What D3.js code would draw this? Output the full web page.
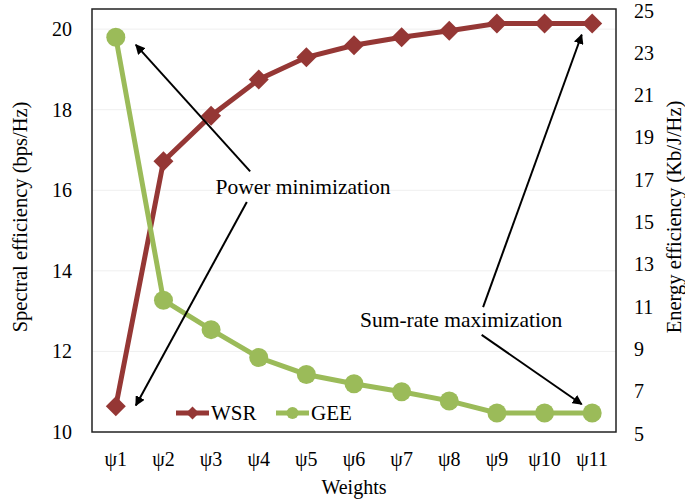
<!DOCTYPE html>
<html>
<head>
<meta charset="utf-8">
<script src="https://cdn.jsdelivr.net/npm/d3@7"></script>
<style>
  body { margin: 0; background: #fff; }
  svg text { font-family: "Liberation Serif", "Times New Roman", Tinos, "DejaVu Serif", serif !important; fill: #000; }
</style>
</head>
<body>
<svg id="chart" width="685" height="504"></svg>
<script>
const weights = ["ψ1","ψ2","ψ3","ψ4","ψ5","ψ6","ψ7","ψ8","ψ9","ψ10","ψ11"]
const wsr = [10.64, 16.72, 17.85, 18.75, 19.3, 19.6, 19.8, 19.96, 20.14, 20.14, 20.14]
const gee = [23.66, 11.23, 9.84, 8.52, 7.72, 7.28, 6.9, 6.47, 5.9, 5.9, 5.9]
const leftTicks = [10, 12, 14, 16, 18, 20]
const rightTicks = [5, 7, 9, 11, 13, 15, 17, 19, 21, 23, 25]

// annotations: text pos (index, left value), arrows [[from idx, from val],[to idx, to val]]
const notes = [
  {text: "Power minimization", at: [3.93, 15.9],
   arrows: [[[2.82, 16.47], [0.42, 19.61]], [[2.75, 15.71], [0.42, 10.66]]]},
  {text: "Sum-rate maximization", at: [7.25, 12.6],
   arrows: [[[7.71, 13.1], [9.78, 19.86]], [[7.68, 12.41], [9.78, 10.69]]]}
]

const width = 685, height = 504
const margin = {top: 9, right: 69, bottom: 72, left: 92}
const red = "#953735", green = "#9bbb59"
const FONT = "'Liberation Serif', 'Times New Roman', Tinos, 'DejaVu Serif', serif"

const svg = d3.select("svg#chart").attr("font-family", FONT)

const x = d3.scaleBand()
    .domain(weights)
    .range([margin.left, width - margin.right])
const xc = d => x(d) + x.bandwidth() / 2
const xi = d3.scaleLinear()
    .domain([0, weights.length - 1])
    .range([xc(weights[0]), xc(weights[weights.length - 1])])

const yL = d3.scaleLinear().domain([10, 20.5]).range([height - margin.bottom, margin.top])
const yR = d3.scaleLinear().domain([5, 25]).range([height - margin.bottom, margin.top])

// grid
svg.append("g")
  .selectAll("line")
  .data(leftTicks.slice(1))
  .join("line")
    .attr("x1", margin.left).attr("x2", width - margin.right)
    .attr("y1", d => yL(d)).attr("y2", d => yL(d))
    .attr("stroke", "#efefef")
    .attr("stroke-width", 1)

// axes
const axL = svg.append("g")
    .attr("transform", `translate(${margin.left},0)`)
    .call(d3.axisLeft(yL).tickValues(leftTicks).tickSize(0).tickPadding(20))
const axR = svg.append("g")
    .attr("transform", `translate(${width - margin.right},0)`)
    .call(d3.axisRight(yR).tickValues(rightTicks).tickSize(0).tickPadding(18))
const axB = svg.append("g")
    .attr("transform", `translate(0,${height - margin.bottom})`)
    .call(d3.axisBottom(x).tickSize(0).tickPadding(20))
for (const ax of [axL, axR, axB]) {
  ax.attr("font-family", FONT).attr("font-size", 20)
  ax.select(".domain").remove()
}
axR.selectAll("text").attr("dy", "0.4em")

// frame
svg.append("rect")
    .attr("x", margin.left).attr("y", margin.top)
    .attr("width", width - margin.left - margin.right)
    .attr("height", height - margin.top - margin.bottom)
    .attr("fill", "none")
    .attr("stroke", "#222")
    .attr("stroke-width", 1.5)

// axis titles
svg.append("text")
    .attr("x", (margin.left + width - margin.right) / 2)
    .attr("y", 494)
    .attr("text-anchor", "middle")
    .attr("font-size", 20)
    .text("Weights")
svg.append("text")
    .attr("transform", "translate(27,217) rotate(-90)")
    .attr("text-anchor", "middle")
    .attr("font-size", 20.5)
    .text("Spectral efficiency (bps/Hz)")
svg.append("text")
    .attr("transform", "translate(681,217) rotate(-90)")
    .attr("text-anchor", "middle")
    .attr("font-size", 20.5)
    .text("Energy efficiency (Kb/J/Hz)")

// series
const diamond = r => `M0,${-r}L${r},0L0,${r}L${-r},0Z`

svg.append("path")
    .datum(wsr)
    .attr("fill", "none")
    .attr("stroke", red)
    .attr("stroke-width", 5)
    .attr("d", d3.line().x((d, i) => xc(weights[i])).y(d => yL(d)))
svg.append("g")
  .selectAll("path")
  .data(wsr)
  .join("path")
    .attr("transform", (d, i) => `translate(${xc(weights[i])},${yL(d)})`)
    .attr("d", diamond(10))
    .attr("fill", red)

svg.append("path")
    .datum(gee)
    .attr("fill", "none")
    .attr("stroke", green)
    .attr("stroke-width", 5)
    .attr("d", d3.line().x((d, i) => xc(weights[i])).y(d => yR(d)))
svg.append("g")
  .selectAll("circle")
  .data(gee)
  .join("circle")
    .attr("cx", (d, i) => xc(weights[i]))
    .attr("cy", d => yR(d))
    .attr("r", 9.5)
    .attr("fill", green)

// annotations
svg.append("defs").append("marker")
    .attr("id", "head")
    .attr("viewBox", "0 0 10 10")
    .attr("refX", 9).attr("refY", 5)
    .attr("markerWidth", 5).attr("markerHeight", 5)
    .attr("markerUnits", "strokeWidth")
    .attr("orient", "auto")
  .append("path")
    .attr("d", "M0,0L10,5L0,10Z")
    .attr("fill", "#000")

const note = svg.append("g")
note.selectAll("line")
  .data(notes.flatMap(n => n.arrows))
  .join("line")
    .attr("x1", d => xi(d[0][0])).attr("y1", d => yL(d[0][1]))
    .attr("x2", d => xi(d[1][0])).attr("y2", d => yL(d[1][1]))
    .attr("stroke", "#000")
    .attr("stroke-width", 2)
    .attr("marker-end", "url(#head)")
note.selectAll("text")
  .data(notes)
  .join("text")
    .attr("x", d => xi(d.at[0]))
    .attr("y", d => yL(d.at[1]))
    .attr("text-anchor", "middle")
    .attr("font-size", 21.5)
    .text(d => d.text)

// legend
const legend = svg.append("g").attr("transform", "translate(176,413)")
const items = [
  {name: "WSR", color: red, shape: "diamond"},
  {name: "GEE", color: green, shape: "circle"}
]
const li = legend.selectAll("g")
  .data(items)
  .join("g")
    .attr("transform", (d, i) => `translate(${i * 100},0)`)
li.append("line")
    .attr("x1", 0).attr("x2", 33)
    .attr("stroke", d => d.color)
    .attr("stroke-width", 5)
li.filter(d => d.shape === "diamond").append("path")
    .attr("transform", "translate(16.5,0)")
    .attr("d", diamond(6.5))
    .attr("fill", d => d.color)
li.filter(d => d.shape === "circle").append("circle")
    .attr("cx", 16.5)
    .attr("r", 6)
    .attr("fill", d => d.color)
li.append("text")
    .attr("x", 35)
    .attr("dy", "0.35em")
    .attr("font-size", 21)
    .text(d => d.name)
</script>
</body>
</html>
